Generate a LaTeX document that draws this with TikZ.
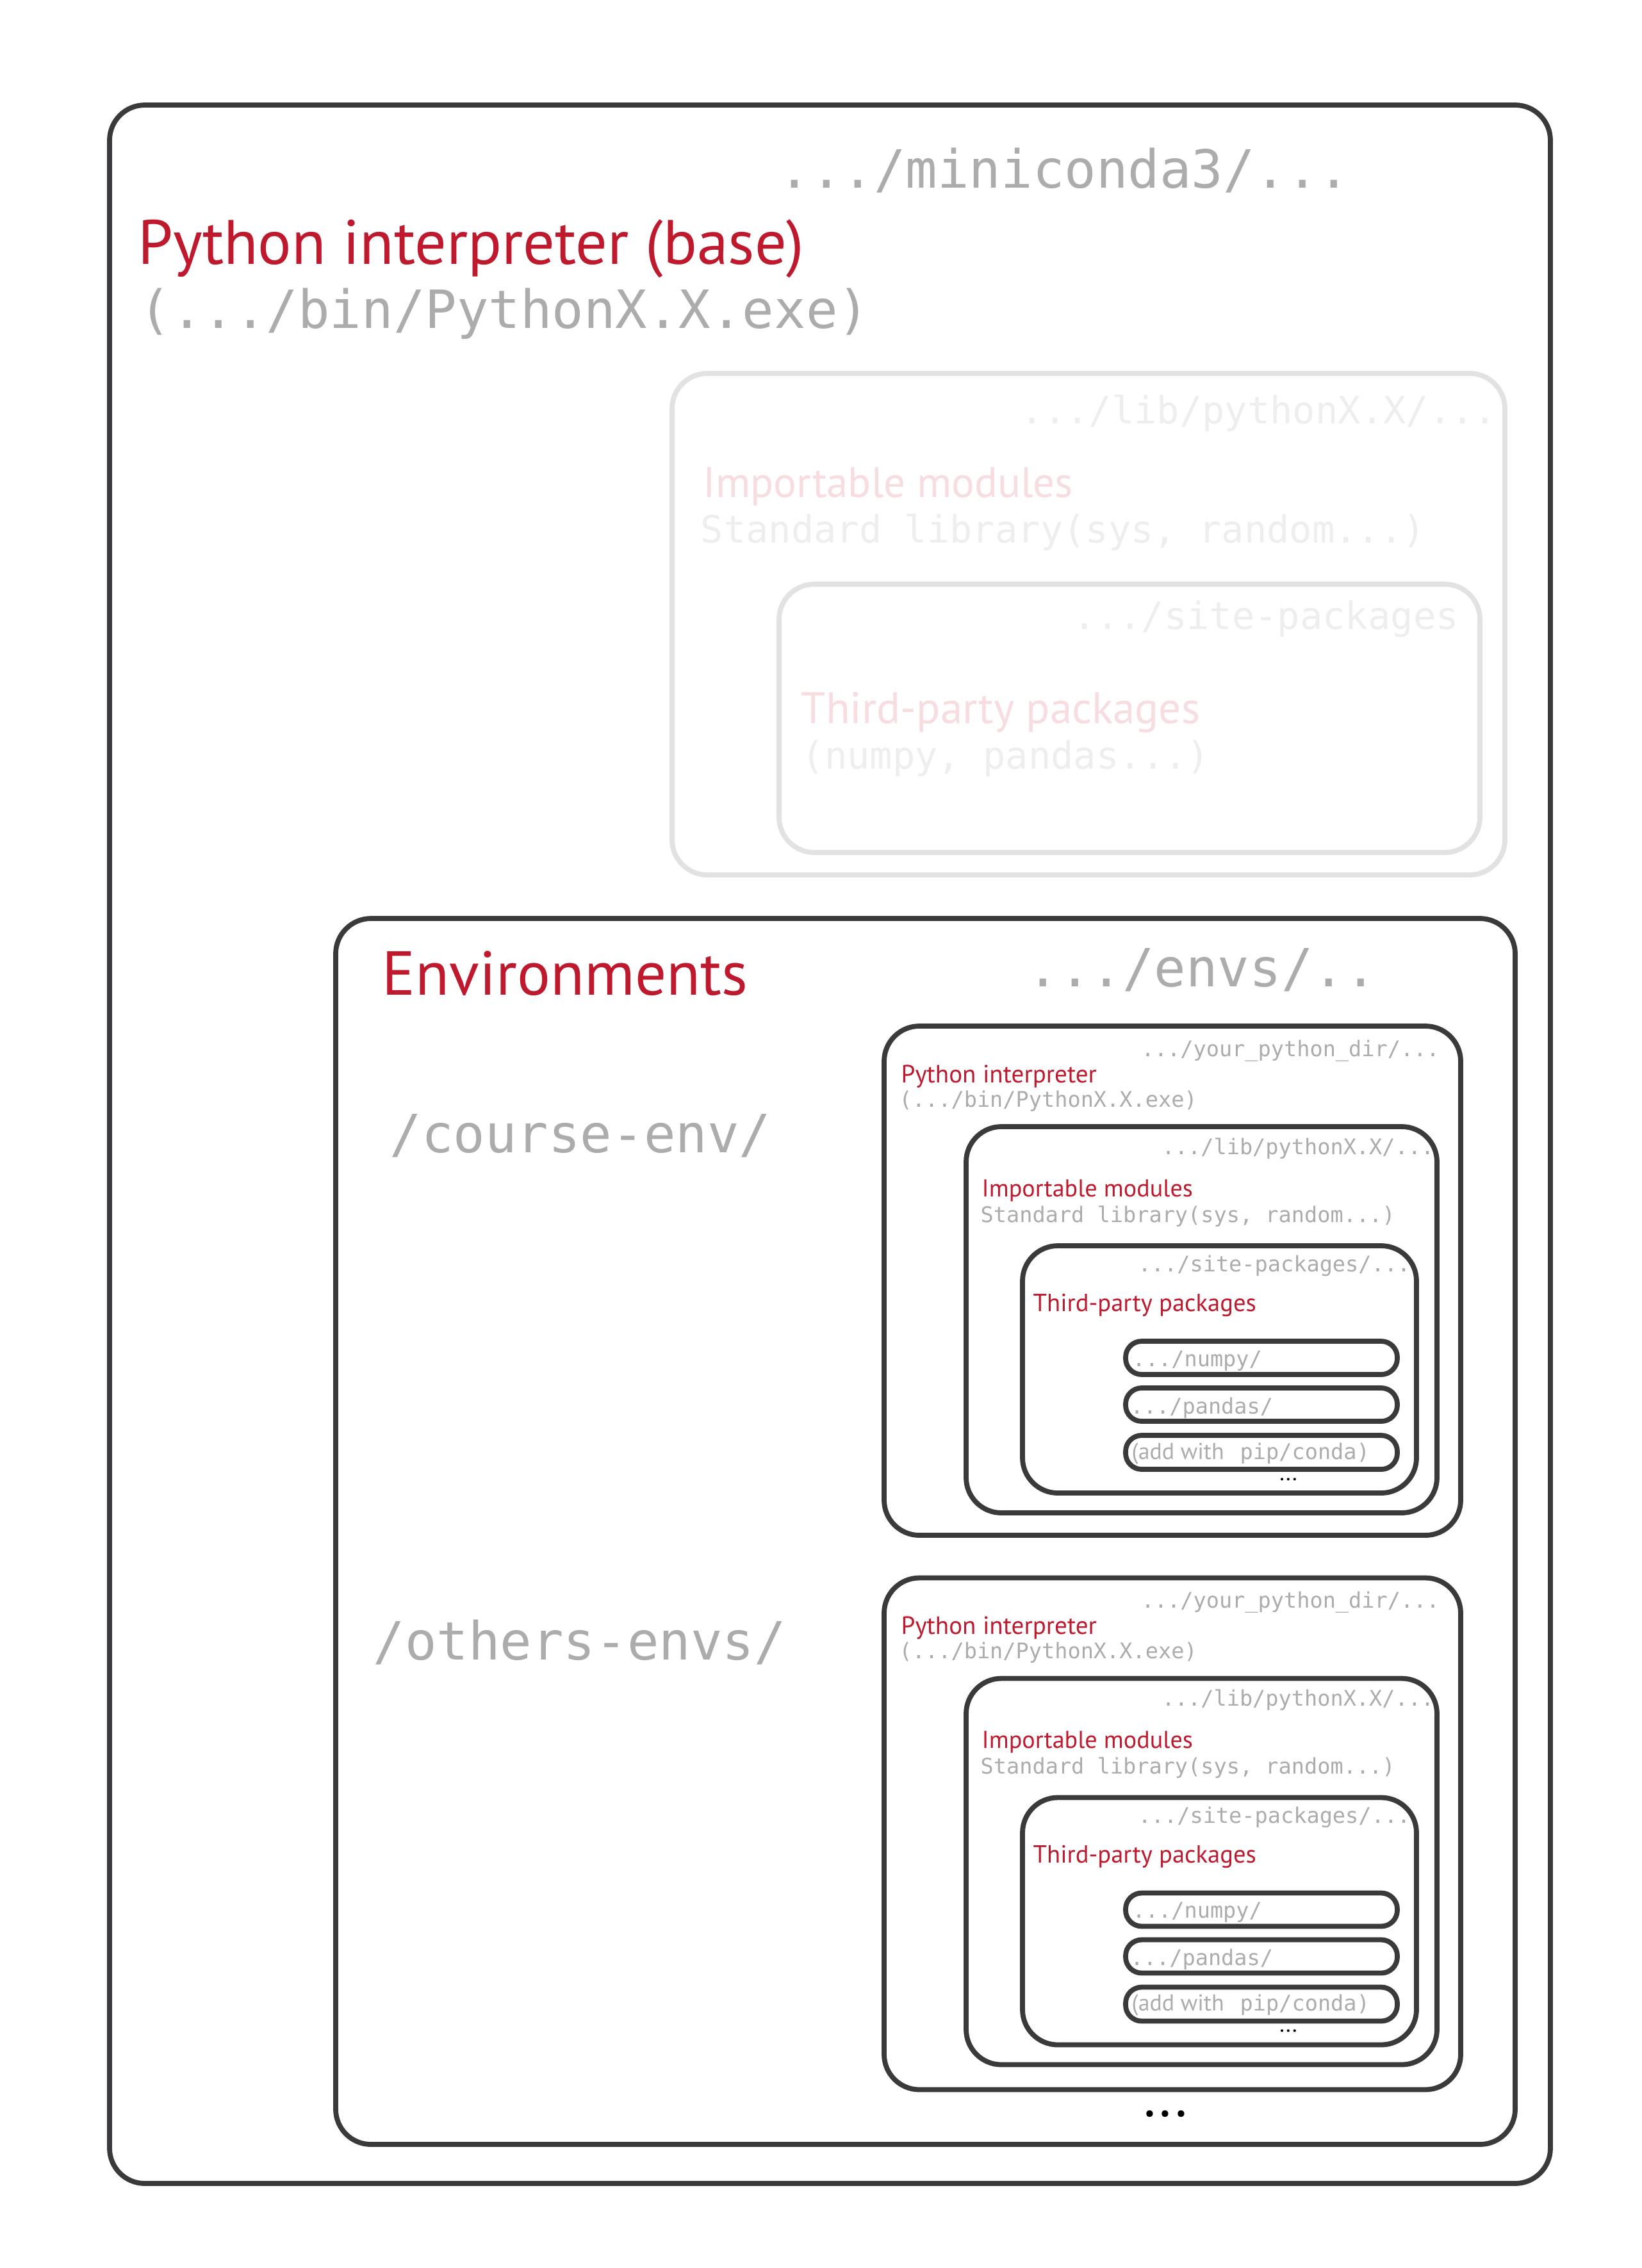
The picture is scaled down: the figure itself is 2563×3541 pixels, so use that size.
\documentclass[tikz,border=0pt]{standalone}
\usepackage{fontspec}
\setmainfont{PT Sans}
\newfontfamily\monof{DejaVu Sans Mono}
\usetikzlibrary{fit}
\definecolor{dk}{RGB}{58,58,60}
\definecolor{rd}{RGB}{190,25,45}
\definecolor{gr}{RGB}{172,172,172}
\definecolor{fl}{RGB}{226,226,226}
\definecolor{fg}{RGB}{238,238,238}
\definecolor{fp}{RGB}{247,220,224}
\newlength\fitlen
\newcommand\fitw[2]{\settowidth\fitlen{\fontsize{10pt}{12pt}\selectfont #2}\pgfmathsetmacro\fitsz{10*(#1)/\fitlen}\fontsize{\fitsz pt}{\fitsz pt}\selectfont #2}
\newcommand\mbig{\monof\fontsize{23.4pt}{28pt}\selectfont}
\newcommand\mmid{\monof\fontsize{16.7pt}{20pt}\selectfont}
\newcommand\msml{\monof\fontsize{9.55pt}{11pt}\selectfont}
\tikzset{
  box/.style={draw=dk, line width=0.078cm, rounded corners=0.55cm, inner sep=0pt},
  fbox/.style={draw=fl, line width=0.078cm, rounded corners=0.55cm, inner sep=0pt},
  pill/.style={draw=dk, line width=0.078cm, rounded corners=0.25cm, inner sep=0pt},
  txt/.style={inner sep=0pt, anchor=base west},
}
\newcommand\envblock[3]{%
\begin{scope}[yshift=#2]
\node[box, fit={(1380,1602)(2280,#3)}] (#1py) {};
\node[txt,text=gr] (#1dir) at (1781,1649) {\msml .../your\_python\_dir/...};
\node[txt,text=rd] (#1pi) at (1406,1690) {\fitw{3.05cm}{Python interpreter}};
\node[txt,text=gr] (#1bin) at (1403,1728) {\msml (.../bin/PythonX.X.exe)};
\node[box, fit={(1508,1759)(2243,2362)}] (#1lib) {};
\node[txt,text=gr] (#1libt) at (1813,1802) {\msml .../lib/pythonX.X/...};
\node[txt,text=rd] (#1imp) at (1532,1868) {\fitw{3.29cm}{Importable modules}};
\node[txt,text=gr] (#1std) at (1530,1908) {\msml Standard library(sys, random...)};
\node[box, fit={(1596,1945)(2211,2331)}] (#1site) {};
\node[txt,text=gr] (#1sitet) at (1776,1985) {\msml .../site-packages/...};
\node[txt,text=rd] (#1tp) at (1612,2047) {\fitw{3.48cm}{Third-party packages}};
\node[pill, fit={(1757,2094)(2181,2146)}] (#1np) {};
\node[txt,text=gr] (#1npt) at (1767,2133) {\msml .../numpy/};
\node[pill, fit={(1757,2167)(2181,2219)}] (#1pd) {};
\node[txt,text=gr] (#1pdt) at (1764,2207) {\msml .../pandas/};
\node[pill, fit={(1757,2241)(2181,2294)}] (#1add) {};
\node[txt,text=gr] (#1addt) at (1766,2278) {\fitw{1.44cm}{(add with}};
\node[txt,text=gr] (#1pip) at (1935,2278) {\msml pip/conda)};
\node[anchor=base,inner sep=0pt] (#1dots) at (2011,2311) {\fontsize{10pt}{12pt}\selectfont ...};
\end{scope}}
\begin{document}
\begin{tikzpicture}[x=0.01cm,y=-0.01cm]
\fill[white] (0,0) rectangle (2563,3541);
\useasboundingbox (0,0) rectangle (2563,3541);
% base
\node[box, fit={(171,164)(2420,3409)}] (base) {};
\node[txt, text=gr] (minic) at (1215,293) {\mbig .../miniconda3/...};
\node[txt, text=rd] (ptitle) at (215,412) {\fitw{10.39cm}{Python interpreter (base)}};
\node[txt, text=gr] (pbin) at (217,512) {\mbig (.../bin/PythonX.X.exe)};
% faded
\node[fbox, fit={(1049,583)(2349,1366)}] (flib) {};
\node[txt,text=fg] (flibt) at (1593,661) {\mmid .../lib/pythonX.X/...};
\node[txt,text=fp] (fimp) at (1097,776) {\fitw{5.77cm}{Importable modules}};
\node[txt,text=fg] (fstd) at (1093,847) {\mmid Standard library(sys, random...)};
\node[fbox, fit={(1216,912)(2310,1331)}] (fsite) {};
\node[txt,text=fg] (fsitet) at (1675,982) {\mmid .../site-packages};
\node[txt,text=fp] (ftp) at (1250,1129) {\fitw{6.22cm}{Third-party packages}};
\node[txt,text=fg] (fnp) at (1251,1200) {\mmid (numpy, pandas...)};
% environments
\node[box, fit={(524,1434)(2365,3348)}] (envs) {};
\node[txt,text=rd] (envt) at (596,1553) {\fitw{5.70cm}{Environments}};
\node[txt,text=gr] (envp) at (1603,1540) {\mbig .../envs/..};
\node[txt,text=gr] (course) at (608,1799) {\mbig /course-env/};
\node[txt,text=gr] (others) at (582,2591) {\mbig /others-envs/};
\node[anchor=base,inner sep=0pt] (more) at (1819,3304) {\fontsize{25pt}{30pt}\selectfont ...};
\envblock{a}{0cm}{2397}
\envblock{b}{-8.61cm}{2401}
\end{tikzpicture}
\end{document}
